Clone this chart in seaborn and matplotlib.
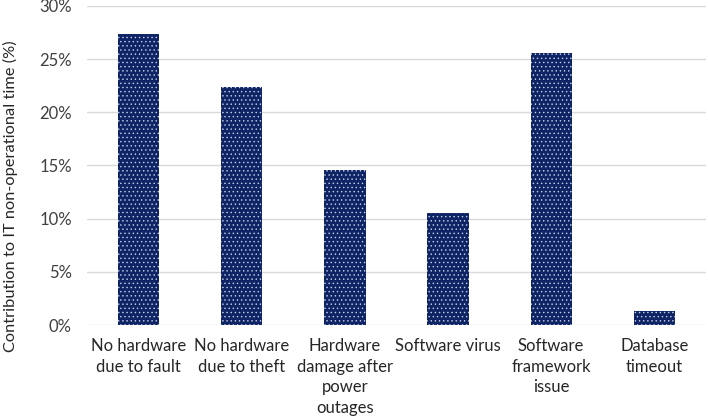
import matplotlib
matplotlib.use("Agg")
import matplotlib.pyplot as plt
import seaborn as sns
import pandas as pd
from matplotlib.ticker import PercentFormatter

# data
causes = [
    "No hardware\ndue to fault",
    "No hardware\ndue to theft",
    "Hardware\ndamage after\npower\noutages",
    "Software virus",
    "Software\nframework\nissue",
    "Database\ntimeout",
]
share = [27.4, 22.4, 14.6, 10.5, 25.6, 1.3]
y_ticks = [0, 5, 10, 15, 20, 25, 30]

df = pd.DataFrame({"cause": causes, "share": share})

sns.set_style("white")
plt.rcParams["font.family"] = ["Lato", "DejaVu Sans"]
plt.rcParams["hatch.linewidth"] = 0.5

fig = plt.figure(figsize=(7.08, 4.2), dpi=100)
ax = fig.add_axes([0.123, 0.226, 0.874, 0.760])

sns.barplot(data=df, x="cause", y="share", color="#0e2465", width=0.4,
            saturation=1, ax=ax, zorder=3)

# white dotted fill like the original
for bar in ax.patches:
    bar.set_facecolor("#0e2465")
    bar.set_edgecolor("#c8d0e8")
    bar.set_linewidth(0)
    bar.set_hatch("....")

ax.set_ylim(0, 30)
ax.set_yticks(y_ticks)
ax.yaxis.set_major_formatter(PercentFormatter(decimals=0))
ax.grid(axis="y", color="#d9d9d9", linewidth=1, zorder=0)
ax.set_axisbelow(True)
sns.despine(ax=ax, left=True, top=True, right=True, bottom=True)

ax.tick_params(axis="y", length=0, pad=11, labelsize=12, labelcolor="#404040")
ax.tick_params(axis="x", length=0, pad=9, labelsize=12, labelcolor="#262626")
for lab in ax.get_xticklabels():
    lab.set_linespacing(1.38)

ax.set_xlabel("")
ax.set_ylabel("Contribution to IT non-operational time (%)", fontsize=11.8,
              color="#262626")
ax.yaxis.set_label_coords(-0.112, 0.405)

fig.savefig("out.png", dpi=100)
